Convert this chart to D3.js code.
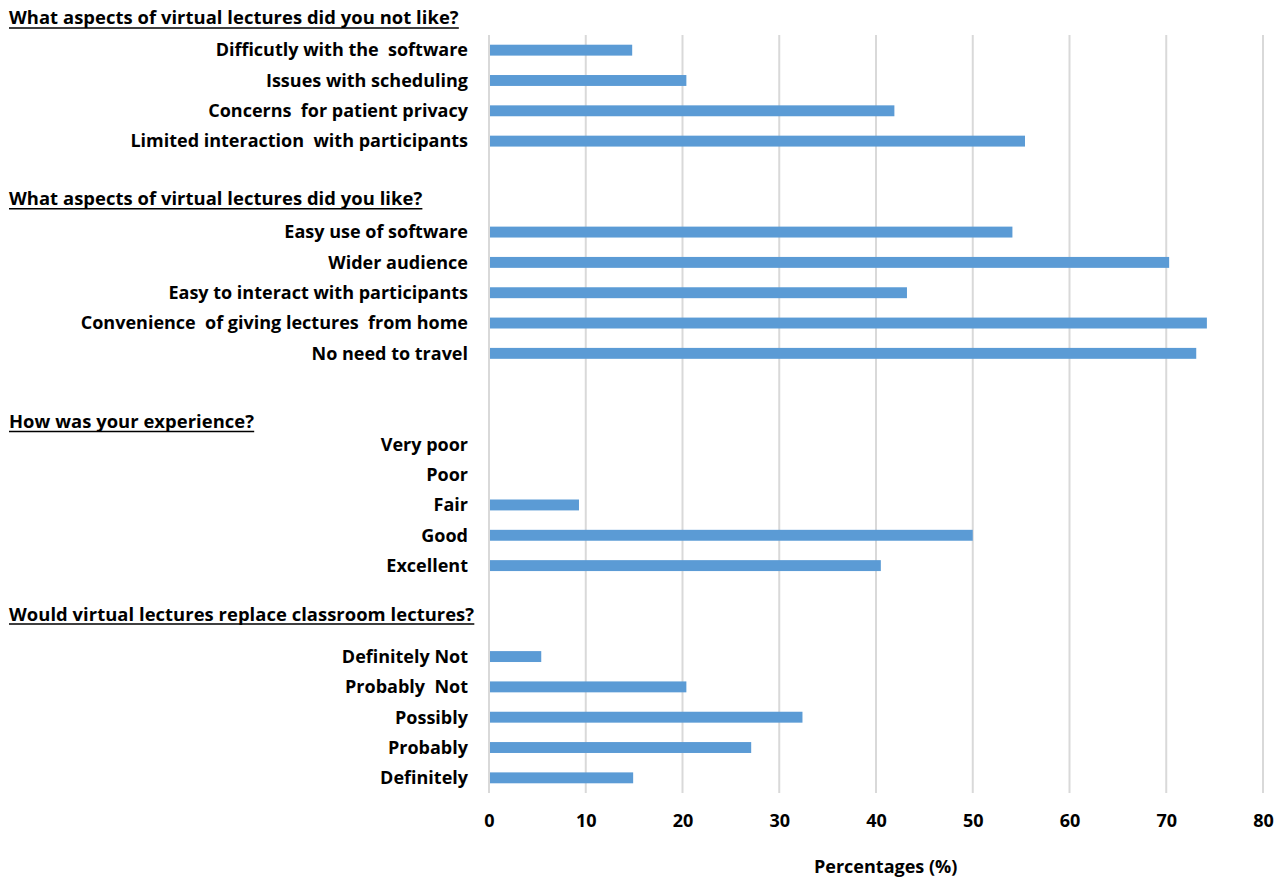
<!DOCTYPE html>
<html>
<head>
<meta charset="utf-8">
<script src="https://cdn.jsdelivr.net/npm/d3@7"></script>
<style>
  html, body { margin: 0; padding: 0; background: #fff; }
  svg { display: block; }
  text { font-family: "Open Sans", Lato, sans-serif; font-weight: bold; fill: #000; }
</style>
</head>
<body>
<svg id="chart" width="1285" height="879"></svg>
<script>
// Survey responses, one row per answer; empty labels are spacer rows.
const categories = [
  "Difficutly with the  software",
  "Issues with scheduling",
  "Concerns  for patient privacy",
  "Limited interaction  with participants",
  "",
  "",
  "Easy use of software",
  "Wider audience",
  "Easy to interact with participants",
  "Convenience  of giving lectures  from home",
  "No need to travel",
  "",
  "",
  "Very poor",
  "Poor",
  "Fair",
  "Good",
  "Excellent",
  "",
  "",
  "Definitely Not",
  "Probably  Not",
  "Possibly",
  "Probably",
  "Definitely"
];
const percentages = [
  14.8, 20.4, 41.9, 55.4,
  null, null,
  54.1, 70.3, 43.2, 74.2, 73.1,
  null, null,
  0, 0, 9.3, 50.0, 40.5,
  null, null,
  5.4, 20.4, 32.4, 27.1, 14.9
];
// Section questions, placed at a fractional row position.
const questions = [
  "What aspects of virtual lectures did you not like?",
  "What aspects of virtual lectures did you like?",
  "How was your experience?",
  "Would virtual lectures replace classroom lectures?"
];
const questionRows = [-1.06, 4.9, 12.25, 18.6];
const xTicks = [0, 10, 20, 30, 40, 50, 60, 70, 80];
const xTitle = "Percentages (%)";

const FS = 18;
const svg = d3.select("#chart");
const margin = { top: 35, right: 22, bottom: 86, left: 489 };
const W = 1285, H = 879;

const rows = d3.range(categories.length);
const x = d3.scaleLinear().domain([0, 80]).range([margin.left, W - margin.right]);
const y = d3.scaleBand().domain(rows).range([margin.top, H - margin.bottom]).paddingInner(0.64).paddingOuter(0.32);
const rowStep = y.step();
const rowCenter = r => margin.top + rowStep * (r + 0.5);

// Vertical gridlines
svg.append("g")
  .selectAll("line")
  .data(xTicks)
  .join("line")
  .attr("x1", d => x(d)).attr("x2", d => x(d))
  .attr("y1", margin.top).attr("y2", H - margin.bottom)
  .attr("stroke", "#d9d9d9")
  .attr("stroke-width", 2);

// Bars
svg.append("g")
  .selectAll("rect")
  .data(rows.filter(i => percentages[i] != null && percentages[i] > 0))
  .join("rect")
  .attr("x", x(0) + 1)
  .attr("y", i => y(i))
  .attr("width", i => x(percentages[i]) - x(0) - 1)
  .attr("height", y.bandwidth())
  .attr("fill", "#5b9bd5");

// Category labels
svg.append("g")
  .selectAll("text")
  .data(rows.filter(i => categories[i] !== ""))
  .join("text")
  .attr("x", margin.left - 21)
  .attr("y", i => rowCenter(i))
  .attr("dy", "0.35em")
  .attr("text-anchor", "end")
  .attr("font-size", FS)
  .style("white-space", "pre")
  .text(i => categories[i]);

// Section questions, underlined
const q = svg.append("g")
  .selectAll("g")
  .data(questions)
  .join("g");
q.append("text")
  .attr("x", 9)
  .attr("y", (d, i) => rowCenter(questionRows[i]))
  .attr("dy", "0.35em")
  .attr("font-size", 18.4)
  .attr("letter-spacing", 0.05)
  .text(d => d)
  .each(function(d, i) {
    const bb = this.getBBox();
    d3.select(this.parentNode).append("line")
      .attr("x1", bb.x).attr("x2", bb.x + bb.width)
      .attr("y1", rowCenter(questionRows[i]) + 10)
      .attr("y2", rowCenter(questionRows[i]) + 10)
      .attr("stroke", "#000").attr("stroke-width", 1.5);
  });

// X axis tick labels
const xAxis = d3.axisBottom(x).tickValues(xTicks).tickSize(0).tickPadding(0);
const gx = svg.append("g")
  .attr("transform", `translate(0,${H - margin.bottom + 28})`)
  .call(xAxis);
gx.select(".domain").remove();
gx.selectAll("text")
  .attr("font-size", FS)
  .attr("dy", "0.35em")
  .style("font-family", "'Open Sans', Lato, sans-serif")
  .style("font-weight", "bold")
  .attr("fill", "#000");

// X axis title
svg.append("text")
  .attr("x", x(41))
  .attr("y", 867)
  .attr("dy", "0.35em")
  .attr("text-anchor", "middle")
  .attr("font-size", FS)
  .text(xTitle);
</script>
</body>
</html>
